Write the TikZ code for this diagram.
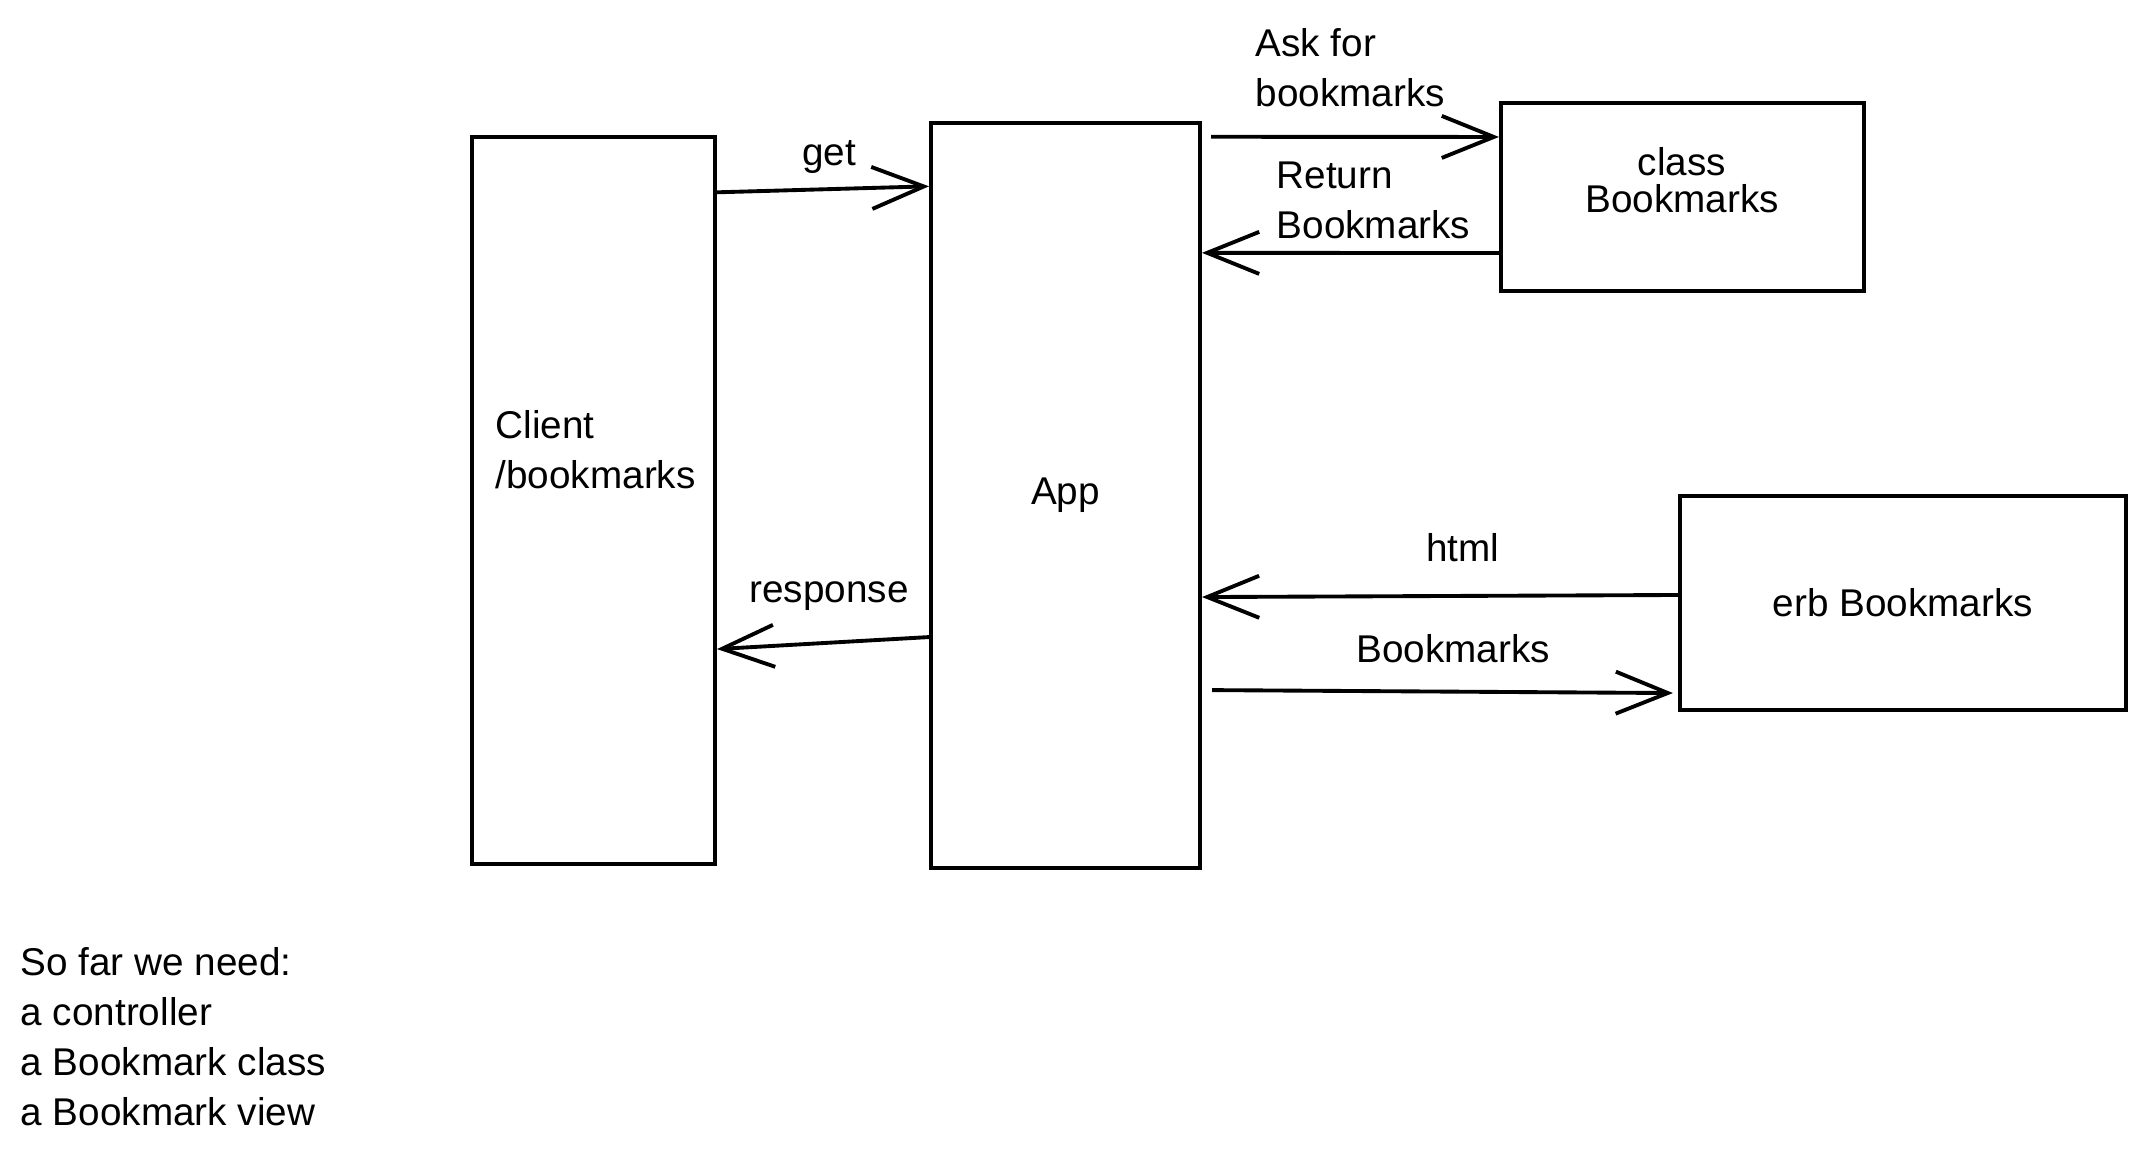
\documentclass[tikz,border=0pt]{standalone}
\usepackage{fontspec}
\setmainfont{Liberation Sans}
\usetikzlibrary{arrows.meta}

\begin{document}
\begin{tikzpicture}[x=0.01cm,y=-0.01cm,
  every node/.style={font=\fontsize{11}{14.2}\selectfont},
  box/.style={draw,line width=1.1pt,inner sep=0pt},
  lbl/.style={inner sep=0pt},
  arr/.style={line width=1.1pt,-{Straight Barb[length=0.52cm,width=0.42cm,line width=1.1pt]}}]
\useasboundingbox (0,0) rectangle (2144,1158);
% boxes
\node[box,minimum width=2.43cm,minimum height=7.27cm] (client) at (593.5,500.5) {};
\node[box,minimum width=2.69cm,minimum height=7.45cm] (app) at (1065.5,495.5) {App};
\node[box,minimum width=3.63cm,minimum height=1.88cm] (classbm) at (1682.5,197) {};
\node[box,minimum width=4.46cm,minimum height=2.14cm] (erbbm) at (1903,603) {erb Bookmarks};
\node[lbl,anchor=west,align=left] (clientlbl) at (495,450) {Client\\/bookmarks};
\node[lbl,align=center] (classlbl) at (1682,180) {class\\[-3.5pt]Bookmarks};
% connectors
\draw[arr] ([yshift=3.08cm]client.east) -- ([yshift=3.09cm]app.west);
\draw[arr] ([yshift=-1.415cm]app.west) -- ([yshift=-1.485cm]client.east);
\draw[arr] ([xshift=0.09cm,yshift=3.585cm]app.east) -- ([yshift=0.6cm]classbm.west);
\draw[arr] ([yshift=-0.56cm]classbm.west) -- ([yshift=2.425cm]app.east);
\draw[arr] ([yshift=0.08cm]erbbm.west) -- ([yshift=-1.015cm]app.east);
\draw[arr] ([xshift=0.1cm,yshift=-1.945cm]app.east) -- ([xshift=-0.05cm,yshift=-0.9cm]erbbm.west);
% labels
\node[lbl] (getlbl) at (829,157) {get};
\node[lbl] (resplbl) at (829,596) {response};
\node[lbl,anchor=west,align=left] (asklbl) at (1255,68) {Ask for\\bookmarks};
\node[lbl,anchor=west,align=left] (retlbl) at (1276,200) {Return\\Bookmarks};
\node[lbl] (htmllbl) at (1463,548) {html};
\node[lbl] (bmlbl) at (1453,649) {Bookmarks};
\node[lbl,anchor=west,align=left] (needs) at (20,1037) {So far we need:\\a controller\\a Bookmark class\\a Bookmark view};
\end{tikzpicture}
\end{document}
